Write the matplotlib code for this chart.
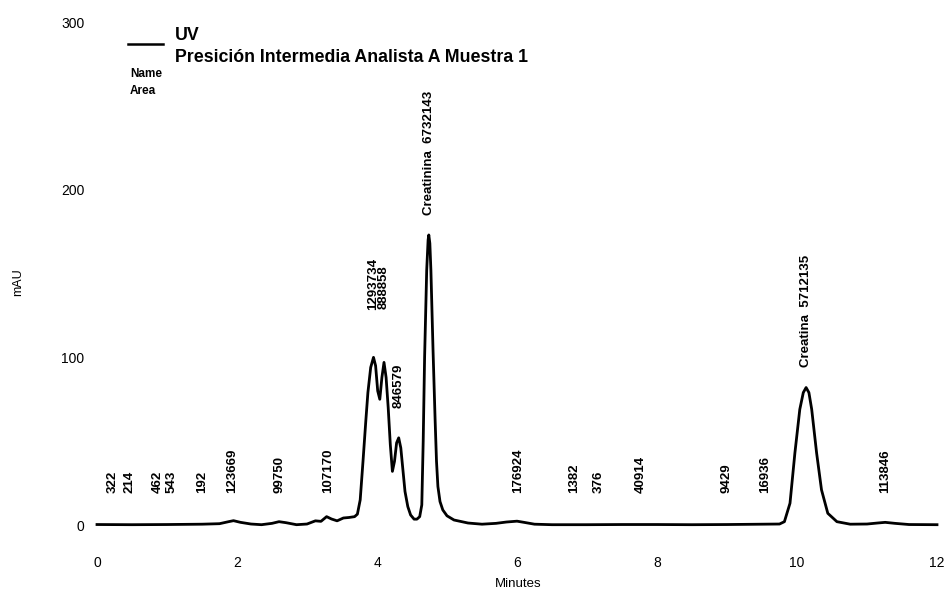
import numpy as np
import matplotlib.pyplot as plt
from matplotlib.lines import Line2D

plt.rcParams['font.family'] = ['Liberation Sans', 'DejaVu Sans']

# UV trace (minutes, mAU)
time_min = [0.00, 0.50, 1.00, 1.50, 1.75, 1.88, 1.95, 2.05, 2.20, 2.35, 2.50, 2.60, 2.70,
            2.85, 3.00, 3.12, 3.20, 3.28, 3.35, 3.43, 3.52, 3.60, 3.68, 3.72, 3.76, 3.80,
            3.84, 3.87, 3.91, 3.95, 3.98, 4.01, 4.04, 4.07, 4.10, 4.13, 4.16, 4.19, 4.22,
            4.25, 4.28, 4.31, 4.34, 4.37, 4.40, 4.44, 4.48, 4.53, 4.57, 4.61, 4.64, 4.66,
            4.68, 4.71, 4.73, 4.74, 4.755, 4.77, 4.80, 4.83, 4.85, 4.87, 4.90, 4.94, 5.00,
            5.10, 5.30, 5.50, 5.70, 5.85, 6.00, 6.10, 6.25, 6.50, 7.00, 7.50, 8.00, 8.50,
            9.00, 9.50, 9.75, 9.82, 9.90, 9.97, 10.04, 10.09, 10.13, 10.17, 10.21, 10.28,
            10.35, 10.44, 10.57, 10.76, 11.00, 11.15, 11.26, 11.40, 11.60, 12.00]
mau = [0.3, 0.2, 0.3, 0.5, 0.8, 2.0, 2.6, 1.6, 0.6, 0.2, 1.0, 2.0, 1.4,
       0.2, 0.6, 2.5, 2.2, 5.0, 3.6, 2.5, 4.2, 4.5, 5.0, 6.5, 15, 38,
       62, 79, 94, 100, 95, 80, 75, 88, 97, 88, 70, 48, 32,
       38, 49, 52, 46, 33, 20, 11, 6, 3.5, 3.5, 5, 12, 50,
       100, 152, 170, 173, 168, 152, 105, 63, 38, 23, 14, 9, 5.5,
       3, 1.2, 0.5, 1.0, 1.8, 2.3, 1.6, 0.5, 0.2, 0.2, 0.3, 0.3, 0.2,
       0.3, 0.5, 0.6, 2, 13, 43, 69, 79, 82, 79, 69, 43,
       21, 7, 2, 0.5, 0.6, 1.2, 1.6, 1.0, 0.3, 0.2]

# integrated peaks: retention time, name, area
peak_rt = [0.23, 0.46, 0.87, 1.07, 1.50, 1.93, 2.61, 3.30, 3.94, 4.09, 4.31, 4.74,
           6.01, 6.81, 7.16, 7.77, 9.00, 9.54, 10.13, 11.26]
peak_name = ['', '', '', '', '', '', '', '', '', '', '', 'Creatinina',
             '', '', '', '', '', '', 'Creatina', '']
peak_area = [322, 214, 462, 543, 192, 123669, 99750, 107170, 1293734, 888858, 846579, 6732143,
             176924, 1382, 376, 40914, 9429, 16936, 5712135, 113846]

fig = plt.figure(figsize=(9.52, 5.92), dpi=100)
ax = fig.add_axes([97 / 952, 1 - 541.8 / 592, 840 / 952, (541.8 - 22) / 592])
ax.plot(time_min, mau, color='black', lw=2.0, clip_on=False)
ax.set_xlim(0, 12)
ax.set_ylim(-10, 300)
ax.set_xticks(range(0, 13, 2))
ax.set_yticks([0, 100, 200, 300])
for s in ax.spines.values():
    s.set_visible(False)
ax.tick_params(length=0, labelsize=10)
ax.tick_params(axis='x', pad=10)
ax.tick_params(axis='y', pad=9)

# peak labels sit above the trace; the first two of the 4 min cluster are lifted
extra = {3.94: 18, 4.09: 23, 4.31: 6}
for rt, name, area in zip(peak_rt, peak_name, peak_area):
    top = np.interp(rt, time_min, mau)
    y = max(top + 12 + extra.get(rt, 0), 19)
    txt = f'{name}  {area}' if name else str(area)
    ax.text(rt, y, txt, rotation=90, ha='center', va='bottom',
            fontsize=9.5, fontweight='bold')

fig.add_artist(Line2D([128 / 952, 163 / 952], [1 - 44 / 592] * 2, color='black', lw=1.8))
fig.text(175 / 952, 1 - 36 / 592, 'UV', fontsize=12.8, fontweight='bold', va='center')
fig.text(175 / 952, 1 - 57 / 592, 'Presición Intermedia Analista A Muestra 1',
         fontsize=12.8, fontweight='bold', va='center')
fig.text(130 / 952, 1 - 74 / 592, 'Name', fontsize=8.5, fontweight='bold', va='center')
fig.text(130 / 952, 1 - 91 / 592, 'Area', fontsize=8.5, fontweight='bold', va='center')
fig.text(18 / 952, 1 - 282 / 592, 'mAU', fontsize=9, rotation=90, ha='center', va='center')
fig.text(518 / 952, 1 - 584 / 592, 'Minutes', fontsize=9.5, ha='center', va='center')

fig.savefig('out.png', dpi=100)
